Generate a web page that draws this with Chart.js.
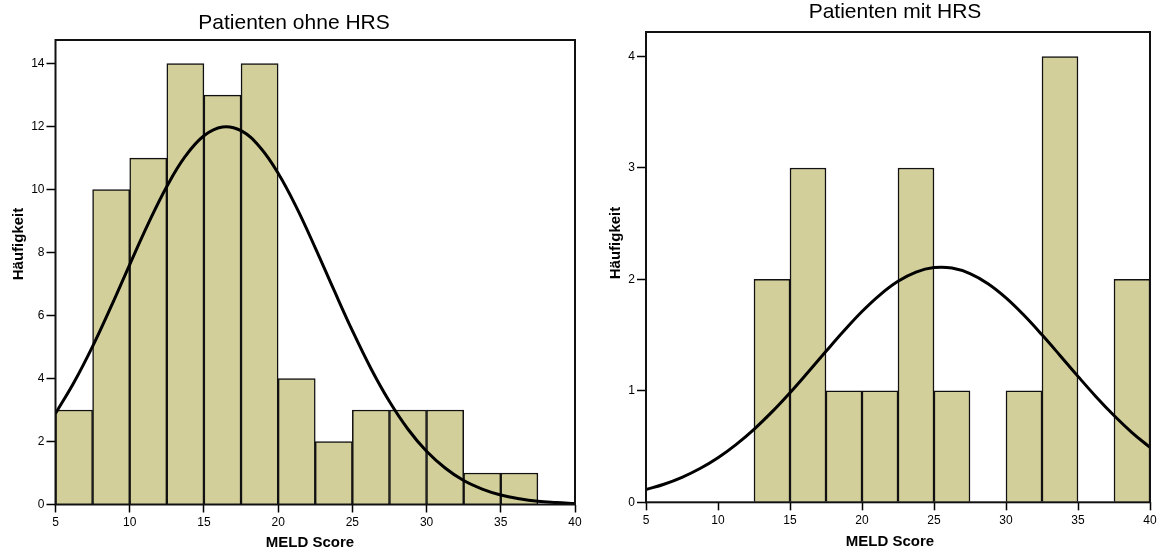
<!DOCTYPE html>
<html>
<head>
<meta charset="utf-8">
<script src="https://cdn.jsdelivr.net/npm/chart.js@4/dist/chart.umd.min.js"></script>
<style>
  html, body { margin: 0; padding: 0; background: #fff; overflow: hidden; }
  #wrap { position: relative; width: 1164px; height: 554px; }
  .panel { position: absolute; top: 0; height: 554px; }
  #left { left: 0; width: 590px; }
  #right { left: 590px; width: 574px; }
</style>
</head>
<body>
<div id="wrap">
  <div class="panel" id="left"><canvas id="cLeft" width="590" height="554"></canvas></div>
  <div class="panel" id="right"><canvas id="cRight" width="574" height="554"></canvas></div>
</div>
<script>
// MELD score bins (width 2.5, centres from 6.25 to 38.75)
const binCenters = [6.25, 8.75, 11.25, 13.75, 16.25, 18.75, 21.25, 23.75, 26.25, 28.75, 31.25, 33.75, 36.25, 38.75];
// Patient counts per bin
const countsOhneHRS = [3, 10, 11, 14, 13, 14, 4, 2, 3, 3, 3, 1, 1, 0];
const countsMitHRS  = [0, 0, 0, 2, 3, 1, 1, 3, 1, 0, 1, 4, 0, 2];

// Fitted normal curves, sampled along the MELD axis
const curveX = [5, 6.25, 7.5, 8.75, 10, 11.25, 12.5, 13.75, 15, 16.25, 17.5, 18.75, 20, 21.25, 22.5,
                23.75, 25, 26.25, 27.5, 28.75, 30, 31.25, 32.5, 33.75, 35, 36.25, 37.5, 38.75, 40];
const curveOhneHRS = [2.89, 3.88, 5.02, 6.29, 7.62, 8.92, 10.10, 11.06, 11.71, 11.99, 11.87, 11.36, 10.52, 9.42, 8.15,
                      6.82, 5.52, 4.32, 3.27, 2.39, 1.69, 1.16, 0.76, 0.49, 0.30, 0.18, 0.10, 0.06, 0.03];
const curveMitHRS  = [0.115, 0.162, 0.224, 0.303, 0.400, 0.518, 0.655, 0.811, 0.983, 1.167, 1.355, 1.539, 1.712, 1.862, 1.983,
                      2.066, 2.106, 2.102, 2.052, 1.961, 1.834, 1.678, 1.503, 1.318, 1.130, 0.948, 0.779, 0.626, 0.492];

// Axis ticks
const xTickStep = 5;
const yTickStepOhne = 2;
const yTickStepMit = 1;

const FONT = '"Liberation Sans", Arial, Helvetica, sans-serif';

// Draws the frame, the chart heading and the axis titles
const captions = {
  id: 'captions',
  afterDraw(chart, args, o) {
    const ctx = chart.ctx, a = chart.chartArea;
    ctx.save();
    ctx.strokeStyle = '#111';
    ctx.lineWidth = 2;
    ctx.strokeRect(a.left, a.top, a.right - a.left, a.bottom - a.top);
    ctx.fillStyle = '#000';
    ctx.textAlign = 'center';
    ctx.textBaseline = 'middle';
    ctx.font = o.titleSize + 'px ' + FONT;
    ctx.fillText(o.title, o.titleX, o.titleY);
    ctx.font = 'bold ' + o.axisSize + 'px ' + FONT;
    ctx.fillText(o.xTitle, o.xTitleX, o.xTitleY);
    ctx.translate(o.yTitleX, o.yTitleY);
    ctx.rotate(-Math.PI / 2);
    ctx.fillText(o.yTitle, 0, 0);
    ctx.restore();
  }
};

function makeChart(canvasId, counts, curve, yMax, yStep, pad, cap) {
  const axisTicks = {
    display: true, drawOnChartArea: false, drawTicks: true,
    tickLength: 9, tickColor: '#000', tickWidth: 1.5, offset: false
  };
  return new Chart(document.getElementById(canvasId), {
    type: 'bar',
    data: {
      datasets: [
        {
          type: 'line',
          data: curveX.map((x, i) => ({ x: x, y: curve[i] })),
          borderColor: '#000',
          borderWidth: 3,
          pointRadius: 0,
          tension: 0.4,
          fill: false,
          order: 0
        },
        {
          type: 'bar',
          data: binCenters.map((x, i) => ({ x: x, y: counts[i] })),
          backgroundColor: '#d3cf9b',
          borderColor: '#111',
          borderWidth: 1.5,
          barPercentage: 1,
          categoryPercentage: 1,
          order: 1
        }
      ]
    },
    options: {
      responsive: false,
      animation: false,
      layout: { padding: pad },
      plugins: {
        legend: { display: false },
        tooltip: { enabled: false },
        captions: cap
      },
      scales: {
        x: {
          type: 'linear', min: 5, max: 40, offset: false,
          grid: Object.assign({}, axisTicks, { tickLength: 8 }),
          border: { display: false },
          ticks: { stepSize: xTickStep, includeBounds: false, color: '#000', padding: 3, maxRotation: 0,
                   font: { family: FONT, size: 12 } },
          afterFit(s) { s.height = 30; }
        },
        y: {
          type: 'linear', min: 0, max: yMax,
          grid: axisTicks,
          border: { display: false },
          ticks: { stepSize: yStep, includeBounds: false, color: '#000', padding: 2,
                   font: { family: FONT, size: 12 } },
          afterFit(s) { s.width = 30; }
        }
      }
    },
    plugins: [captions]
  });
}

makeChart('cLeft', countsOhneHRS, curveOhneHRS, 14.75, yTickStepOhne,
  { left: 25.5, right: 15, top: 40, bottom: 19.5 },
  { title: 'Patienten ohne HRS', titleSize: 21, titleX: 294, titleY: 23,
    xTitle: 'MELD Score', xTitleX: 310, xTitleY: 543,
    yTitle: 'Häufigkeit', yTitleX: 19, yTitleY: 244, axisSize: 15 });

makeChart('cRight', countsMitHRS, curveMitHRS, 4.22, yTickStepMit,
  { left: 26, right: 14, top: 32, bottom: 21.7 },
  { title: 'Patienten mit HRS', titleSize: 21, titleX: 305, titleY: 12,
    xTitle: 'MELD Score', xTitleX: 300, xTitleY: 542,
    yTitle: 'Häufigkeit', yTitleX: 26, yTitleY: 243, axisSize: 15 });
</script>
</body>
</html>
